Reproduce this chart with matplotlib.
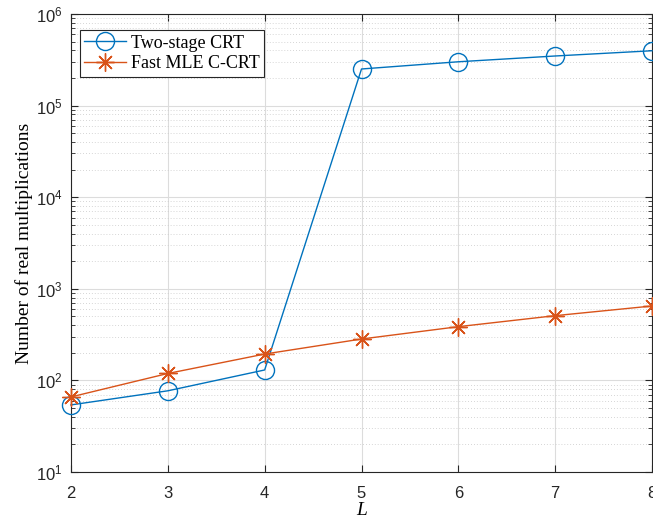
import matplotlib
matplotlib.use("Agg")
import matplotlib.pyplot as plt
from matplotlib.ticker import LogLocator, NullFormatter, FixedLocator

# Number of real multiplications versus L
L_values = [2, 3, 4, 5, 6, 7, 8]
two_stage_crt = [54, 77, 130, 251000, 301000, 348000, 397000]
fast_mle_ccrt = [66, 119, 194, 283, 386, 509, 649]
series_labels = ["Two-stage CRT", "Fast MLE C-CRT"]

blue = "#0072BD"
orange = "#D95319"

plt.rcParams["mathtext.fontset"] = "custom"
plt.rcParams["mathtext.rm"] = "Liberation Sans"

fig = plt.figure(figsize=(6.53, 5.21), dpi=100)
ax = fig.add_axes([71 / 653, 49 / 521, 581 / 653, 458 / 521])

ax.semilogy(L_values, two_stage_crt, color=blue, lw=1.0, marker="o",
            markersize=13, markerfacecolor="none", markeredgewidth=1.0,
            label=series_labels[0], clip_on=False, zorder=3)
ax.semilogy(L_values, fast_mle_ccrt, color=orange, lw=1.0, marker=(8, 2, 0),
            markersize=13, markeredgewidth=1.0,
            label=series_labels[1], clip_on=False, zorder=3)

ax.set_xlim(2, 8)
ax.set_ylim(10, 1e6)
ax.xaxis.set_major_locator(FixedLocator(L_values))
ax.yaxis.set_major_locator(LogLocator(base=10, numticks=10))
ax.yaxis.set_minor_locator(LogLocator(base=10, subs=range(2, 10), numticks=20))
ax.yaxis.set_minor_formatter(NullFormatter())

ax.grid(True, which="major", color="#dcdcdc", lw=0.8, ls="-")
ax.grid(True, which="minor", axis="y", color="#c8c8c8", lw=0.6, ls=(0, (1, 2.5)))
ax.set_axisbelow(True)

for side in ["top", "right", "bottom", "left"]:
    ax.spines[side].set_color("#262626")
    ax.spines[side].set_linewidth(0.8)
ax.tick_params(which="both", direction="in", top=True, right=True,
               colors="#262626", labelsize=12)
ax.tick_params(axis="x", which="major", pad=10)
ax.tick_params(axis="y", which="major", pad=6)
ax.tick_params(which="major", length=5)
ax.tick_params(which="minor", length=3)
for lab in ax.get_xticklabels() + ax.get_yticklabels():
    lab.set_fontfamily("Liberation Sans")

ax.set_xlabel("L", fontsize=14, labelpad=1, family="Liberation Serif",
              style="italic")
ax.set_ylabel("Number of real multiplications", fontsize=14,
              family="Liberation Serif", labelpad=2)

leg = ax.legend(loc="upper left", bbox_to_anchor=(0.015, 0.965),
                prop={"family": "Liberation Serif", "size": 13},
                fancybox=False, edgecolor="#262626", framealpha=1,
                handlelength=2.3, borderaxespad=0, handletextpad=0.3,
                borderpad=0.25, labelspacing=0.2)
leg.get_frame().set_linewidth(0.8)

fig.savefig("out.png", dpi=100)
